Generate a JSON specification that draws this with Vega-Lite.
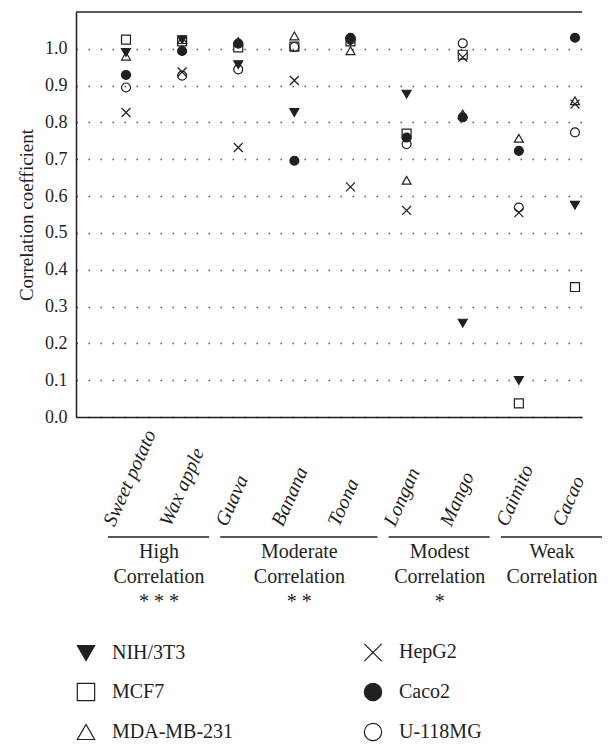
{
  "$schema": "https://vega.github.io/schema/vega-lite/v6.json",
  "width": 506,
  "height": 405,
  "autosize": {"type": "none"},
  "padding": {"left": 76, "top": 12, "right": 30, "bottom": 328},
  "background": "white",
  "config": {
    "font": "Liberation Serif",
    "view": {"stroke": null},
    "axis": {"labelColor": "#231f20", "titleColor": "#231f20", "domainColor": "#231f20", "labelFont": "Liberation Serif", "titleFont": "Liberation Serif"}
  },
  "datasets": {
    "fruits": [
      {"fruit": "Sweet potato", "group": "High", "stars": "* * *", "NIH/3T3": 0.99, "MCF7": 1.025, "MDA-MB-231": 0.98, "HepG2": 0.827, "Caco2": 0.929, "U-118MG": 0.895},
      {"fruit": "Wax apple", "group": "High", "stars": "* * *", "NIH/3T3": 1.025, "MCF7": 1.02, "MDA-MB-231": 1.025, "HepG2": 0.937, "Caco2": 0.994, "U-118MG": 0.927},
      {"fruit": "Guava", "group": "Moderate", "stars": "* *", "NIH/3T3": 0.957, "MCF7": 1.004, "MDA-MB-231": 1.02, "HepG2": 0.732, "Caco2": 1.014, "U-118MG": 0.944},
      {"fruit": "Banana", "group": "Moderate", "stars": "* *", "NIH/3T3": 0.827, "MCF7": 1.006, "MDA-MB-231": 1.035, "HepG2": 0.914, "Caco2": 0.696, "U-118MG": 1.005},
      {"fruit": "Toona", "group": "Moderate", "stars": "* *", "NIH/3T3": 1.02, "MCF7": 1.02, "MDA-MB-231": 0.995, "HepG2": 0.625, "Caco2": 1.03, "U-118MG": 1.025},
      {"fruit": "Longan", "group": "Modest", "stars": "*", "NIH/3T3": 0.877, "MCF7": 0.77, "MDA-MB-231": 0.643, "HepG2": 0.561, "Caco2": 0.759, "U-118MG": 0.741},
      {"fruit": "Mango", "group": "Modest", "stars": "*", "NIH/3T3": 0.255, "MCF7": 0.984, "MDA-MB-231": 0.823, "HepG2": 0.977, "Caco2": 0.814, "U-118MG": 1.015},
      {"fruit": "Caimito", "group": "Weak", "stars": "", "NIH/3T3": 0.099, "MCF7": 0.037, "MDA-MB-231": 0.757, "HepG2": 0.555, "Caco2": 0.723, "U-118MG": 0.569},
      {"fruit": "Cacao", "group": "Weak", "stars": "", "NIH/3T3": 0.575, "MCF7": 0.353, "MDA-MB-231": 0.859, "HepG2": 0.85, "Caco2": 1.03, "U-118MG": 0.773}
    ]
  },
  "layer": [
    {
      "data": {"name": "fruits"},
      "transform": [
        {"window": [{"op": "row_number", "as": "idx"}]},
        {"fold": ["NIH/3T3", "MCF7", "MDA-MB-231", "HepG2", "Caco2", "U-118MG"], "as": ["line", "r"]}
      ],
      "mark": {"type": "point", "size": 80, "strokeWidth": 1.2, "opacity": 1, "fillOpacity": 1},
      "encoding": {
        "x": {
          "field": "idx", "type": "quantitative",
          "scale": {"domain": [0.109, 9.125], "nice": false, "zero": false},
          "axis": {
            "title": null, "values": [1, 2, 3, 4, 5, 6, 7, 8, 9],
            "labelExpr": "['Sweet potato','Wax apple','Guava','Banana','Toona','Longan','Mango','Caimito','Cacao'][datum.value-1]",
            "labelAngle": -66, "labelAlign": "left", "labelBaseline": "alphabetic",
            "labelPadding": 110, "labelOffset": -12, "labelFontStyle": "italic", "labelFontSize": 20,
            "ticks": false, "tickSize": 0, "grid": false, "domainWidth": 1.5,
            "labelOverlap": false, "labelBound": false, "labelFlush": false
          }
        },
        "y": {
          "field": "r", "type": "quantitative",
          "scale": {"domain": [0, 1.1], "nice": false},
          "axis": {
            "title": "Correlation coefficient", "titleFontSize": 19, "titleFontWeight": "normal", "titlePadding": 8,
            "values": [0, 0.1, 0.2, 0.3, 0.4, 0.5, 0.6, 0.7, 0.8, 0.9, 1.0], "format": ".1f",
            "labelFontSize": 18, "labelPadding": 9, "ticks": false, "tickSize": 0,
            "grid": true, "gridDash": [1.5, 10.5], "gridColor": "#555", "gridWidth": 1.3, "domainWidth": 1.5
          }
        },
        "shape": {
          "field": "line", "type": "nominal",
          "scale": {
            "domain": ["NIH/3T3", "MCF7", "MDA-MB-231", "HepG2", "Caco2", "U-118MG"],
            "range": ["triangle-down", "square", "triangle-up", "M-1,-1L1,1M-1,1L1,-1", "circle", "circle"]
          },
          "legend": {
            "orient": "none", "legendX": 0, "legendY": 630, "columns": 2, "title": null,
            "symbolSize": 300, "symbolStrokeWidth": 1.2,
            "labelFontSize": 20, "labelFont": "Liberation Serif", "labelColor": "#231f20",
            "labelOffset": 16, "rowPadding": 16, "columnPadding": 127, "gridAlign": "all"
          }
        },
        "fill": {
          "field": "line", "type": "nominal",
          "scale": {
            "domain": ["NIH/3T3", "MCF7", "MDA-MB-231", "HepG2", "Caco2", "U-118MG"],
            "range": ["#231f20", "transparent", "transparent", "transparent", "#231f20", "transparent"]
          },
          "legend": {
            "orient": "none", "legendX": 0, "legendY": 630, "columns": 2, "title": null,
            "symbolSize": 300, "symbolStrokeWidth": 1.2,
            "labelFontSize": 20, "labelFont": "Liberation Serif", "labelColor": "#231f20",
            "labelOffset": 16, "rowPadding": 16, "columnPadding": 127, "gridAlign": "all"
          }
        },
        "stroke": {
          "field": "line", "type": "nominal",
          "scale": {
            "domain": ["NIH/3T3", "MCF7", "MDA-MB-231", "HepG2", "Caco2", "U-118MG"],
            "range": ["#231f20", "#231f20", "#231f20", "#231f20", "#231f20", "#231f20"]
          },
          "legend": {
            "orient": "none", "legendX": 0, "legendY": 630, "columns": 2, "title": null,
            "symbolSize": 300, "symbolStrokeWidth": 1.2,
            "labelFontSize": 20, "labelFont": "Liberation Serif", "labelColor": "#231f20",
            "labelOffset": 16, "rowPadding": 16, "columnPadding": 127, "gridAlign": "all"
          }
        }
      }
    },
    {
      "data": {"values": [{}]},
      "mark": {"type": "rule", "stroke": "#231f20", "strokeWidth": 1.5},
      "encoding": {"y": {"datum": 1.1}}
    },
    {
      "data": {"name": "fruits"},
      "transform": [
        {"window": [{"op": "row_number", "as": "idx"}]},
        {"aggregate": [{"op": "min", "field": "idx", "as": "x1"}, {"op": "max", "field": "idx", "as": "x2"}], "groupby": ["group", "stars"]}
      ],
      "mark": {"type": "rule", "stroke": "#231f20", "strokeWidth": 1.5, "xOffset": -18, "x2Offset": 27},
      "encoding": {
        "x": {"field": "x1", "type": "quantitative"},
        "x2": {"field": "x2"},
        "y": {"datum": -0.326}
      }
    },
    {
      "data": {"name": "fruits"},
      "transform": [
        {"window": [{"op": "row_number", "as": "idx"}]},
        {"aggregate": [{"op": "min", "field": "idx", "as": "x1"}, {"op": "max", "field": "idx", "as": "x2"}], "groupby": ["group", "stars"]},
        {"calculate": "(datum.x1 + datum.x2) / 2", "as": "mid"},
        {"calculate": "datum.group + '\\nCorrelation\\n' + datum.stars", "as": "label"}
      ],
      "mark": {"type": "text", "fontSize": 20, "lineHeight": 25, "baseline": "top", "align": "center", "dx": 5, "lineBreak": "\n", "color": "#231f20", "font": "Liberation Serif"},
      "encoding": {
        "x": {"field": "mid", "type": "quantitative"},
        "y": {"datum": -0.34},
        "text": {"field": "label", "type": "nominal"}
      }
    }
  ]
}
